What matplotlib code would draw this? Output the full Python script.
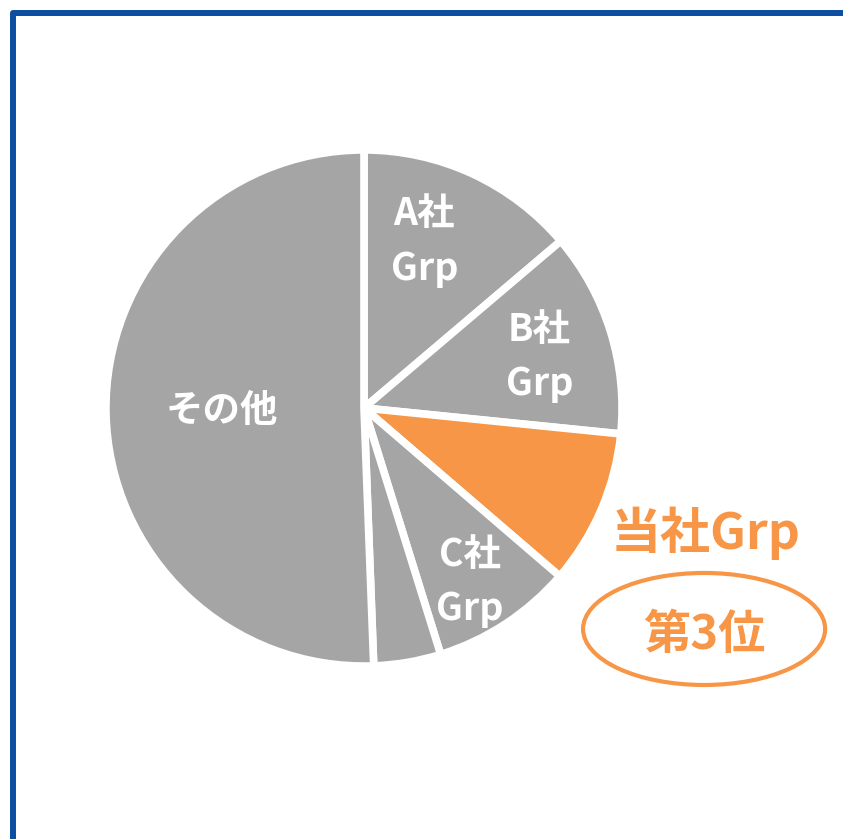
import matplotlib
matplotlib.use("Agg")
import matplotlib.pyplot as plt
from matplotlib.patches import Ellipse
from matplotlib.lines import Line2D
import numpy as np

plt.rcParams['font.family'] = ['Noto Sans CJK JP', 'DejaVu Sans']

# market share (%), clockwise from 12 o'clock
labels = ["A社\nGrp", "B社\nGrp", "", "C社\nGrp", "", "その他"]
shares = [13.8, 12.8, 9.7, 8.9, 4.2, 50.6]
colors = ["#A5A5A5", "#A5A5A5", "#F79646", "#A5A5A5", "#A5A5A5", "#A5A5A5"]
own_name = "当社Grp"
own_rank = "第3位"

ORANGE = "#F79646"
W, H = 843, 839
cx, cy, R = 364, 408, 254  # pie centre / radius in pixels

fig = plt.figure(figsize=(W / 100, H / 100), dpi=100)
ax = fig.add_axes([0, 0, 1, 1])

wedges, _ = ax.pie(shares, colors=colors, startangle=90, counterclock=False,
                   radius=1.016, wedgeprops=dict(edgecolor="white", linewidth=5.5))

ax.set_xlim(-cx / R, (W - cx) / R)
ax.set_ylim((cy - H) / R, cy / R)
ax.set_aspect("equal")
ax.axis("off")

# label placement inside slices: (distance from centre, angle tweak in degrees)
label_pos = [(0.70, 5), (0.72, -1), (0, 0), (0.80, -2), (0, 0), (0.56, 0)]
for w, lab, (dist, dang) in zip(wedges, labels, label_pos):
    if not lab:
        continue
    ang = np.deg2rad((w.theta1 + w.theta2) / 2 + dang)
    ax.text(dist * np.cos(ang), dist * np.sin(ang), lab, ha="center", va="center",
            color="white", fontsize=27, fontweight="bold", linespacing=1.5)

# callout for own group
ax.text(1.343, -0.492, own_name, ha="center", va="center", color=ORANGE,
        fontsize=36, fontweight="bold")
ax.add_patch(Ellipse((1.339, -0.870), 0.953, 0.441, facecolor="none",
                     edgecolor=ORANGE, linewidth=3, clip_on=False))
ax.text(1.339, -0.894, own_rank, ha="center", va="center", color=ORANGE,
        fontsize=34, fontweight="bold")

# blue frame (only top/left visible in the crop)
fx, fy = 13 / W, 1 - 12.5 / H
fig.add_artist(Line2D([fx, fx, 1.01], [-0.01, fy, fy], transform=fig.transFigure,
                      color="#0B4EA2", linewidth=4.3, solid_joinstyle="round"))

fig.savefig("out.png", dpi=100)
